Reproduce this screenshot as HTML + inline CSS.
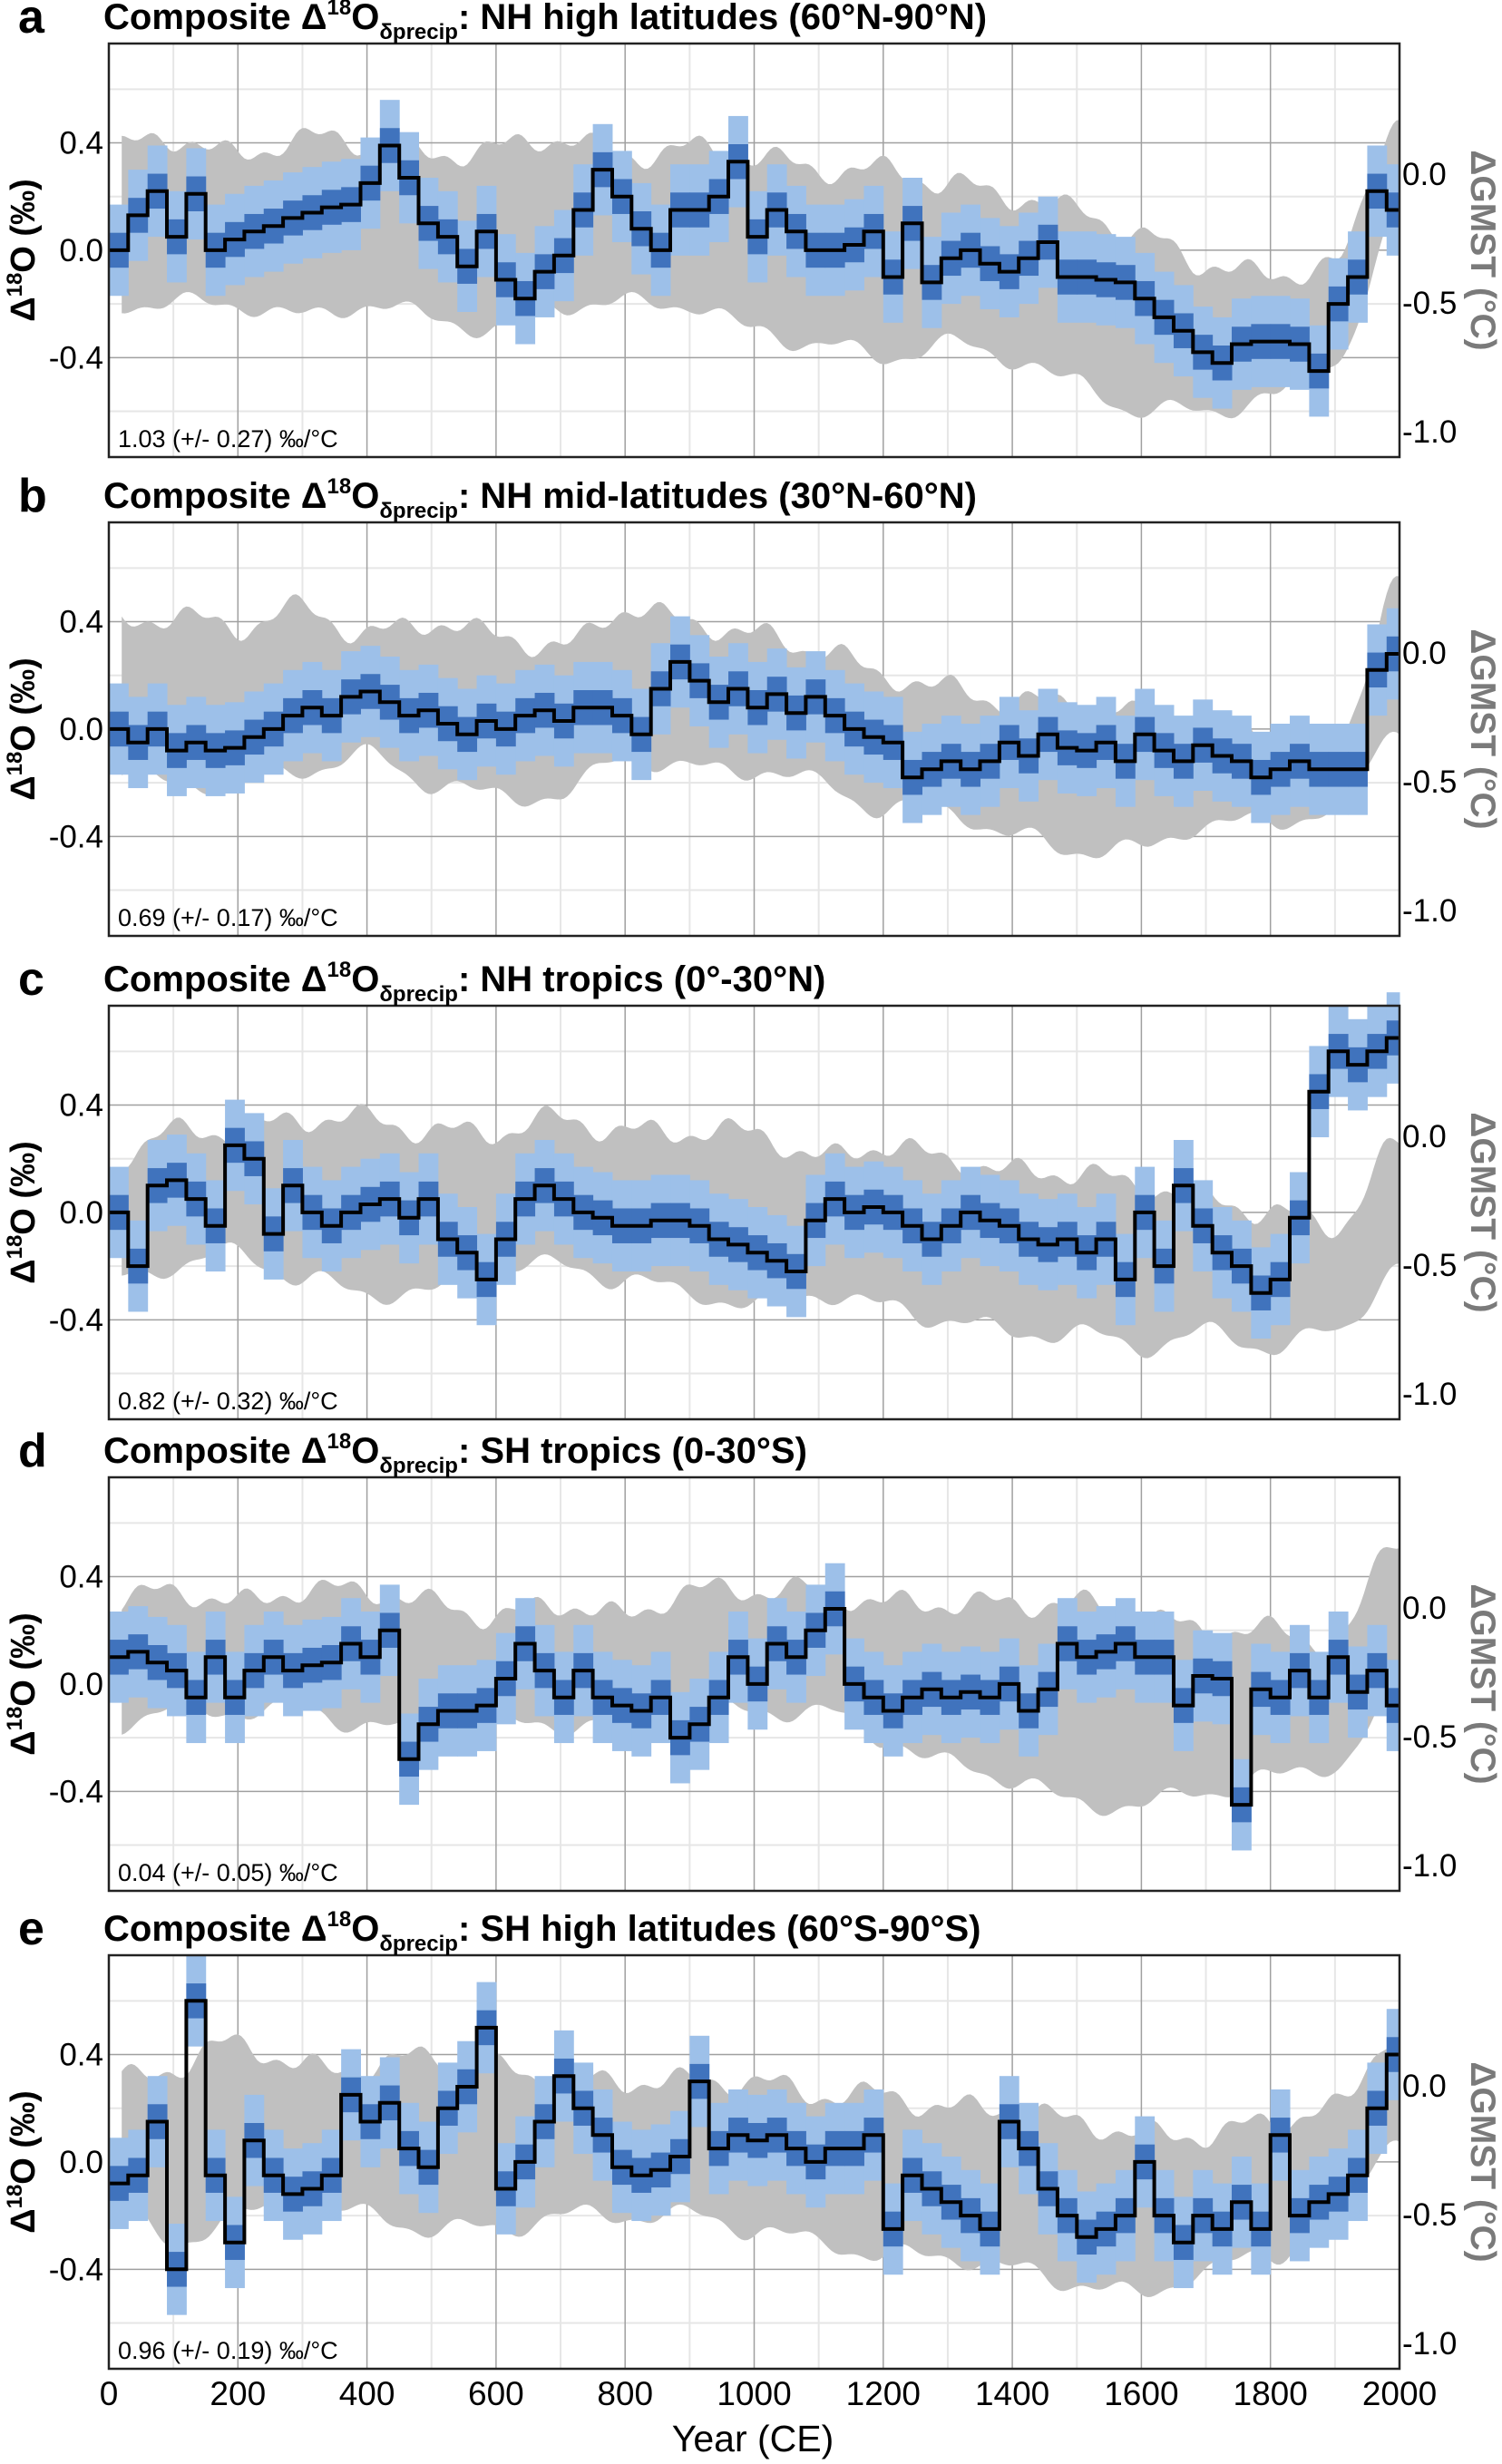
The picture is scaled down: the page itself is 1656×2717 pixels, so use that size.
<!DOCTYPE html>
<html><head><meta charset="utf-8">
<style>
html,body{margin:0;padding:0;background:#fff;}
body{width:1656px;height:2717px;position:relative;overflow:hidden;font-family:"Liberation Sans",sans-serif;}
.t{position:absolute;font-weight:bold;font-size:40px;line-height:44px;white-space:nowrap;color:#000;}
.t sup{font-size:24px;vertical-align:16px;line-height:0;}
.t sub{font-size:24px;vertical-align:-11px;line-height:0;}
.l{position:absolute;font-weight:900;font-size:52px;line-height:50px;}
</style></head><body>
<svg id="s" width="1656" height="2717" style="position:absolute;left:0;top:0"></svg>
<div class="l" style="left:20px;top:-6px">a</div>
<div class="t" style="left:114px;top:-3px">Composite Δ<sup>18</sup>O<sub>δprecip</sub>: NH high latitudes (60°N-90°N)</div>
<div class="l" style="left:20px;top:522px">b</div>
<div class="t" style="left:114px;top:525px">Composite Δ<sup>18</sup>O<sub>δprecip</sub>: NH mid-latitudes (30°N-60°N)</div>
<div class="l" style="left:20px;top:1055px">c</div>
<div class="t" style="left:114px;top:1058px">Composite Δ<sup>18</sup>O<sub>δprecip</sub>: NH tropics (0°-30°N)</div>
<div class="l" style="left:20px;top:1575px">d</div>
<div class="t" style="left:114px;top:1578px">Composite Δ<sup>18</sup>O<sub>δprecip</sub>: SH tropics (0-30°S)</div>
<div class="l" style="left:20px;top:2102px">e</div>
<div class="t" style="left:114px;top:2105px">Composite Δ<sup>18</sup>O<sub>δprecip</sub>: SH high latitudes (60°S-90°S)</div>
<script>
const NS="http://www.w3.org/2000/svg",S=document.getElementById('s');
function el(t,a,txt){const e=document.createElementNS(NS,t);for(const k in a)e.setAttribute(k,a[k]);if(txt!==undefined)e.textContent=txt;S.appendChild(e);return e;}
const L=120,R=1543,H=456;
const X=y=>L+(R-L)*y/2000;
const panels=[
{top:48,txt:"1.03 (+/- 0.27) ‰/°C",
v:[0.0,0.13,0.22,0.05,0.21,0.0,0.04,0.07,0.09,0.12,0.14,0.16,0.17,0.25,0.39,0.27,0.10,0.05,-0.06,0.07,-0.11,-0.18,-0.08,-0.02,0.15,0.3,0.2,0.08,0.0,0.15,0.15,0.2,0.33,0.05,0.15,0.07,0.0,0.0,0.02,0.07,-0.1,0.1,-0.12,-0.03,0.0,-0.05,-0.08,-0.03,0.03,-0.1,-0.1,-0.11,-0.12,-0.18,-0.25,-0.3,-0.38,-0.42,-0.35,-0.34,-0.34,-0.35,-0.45,-0.2,-0.1,0.22,0.15],
up:[0.38,0.42,0.35,0.42,0.4,0.35,0.38,0.42,0.35,0.38,0.35,0.3,0.3,0.25,0.2,0.15,0.05,-0.05,-0.1,-0.05,0.5],
lo:[-0.2,-0.2,-0.2,-0.25,-0.2,-0.25,-0.3,-0.2,-0.2,-0.2,-0.3,-0.35,-0.4,-0.35,-0.4,-0.5,-0.6,-0.6,-0.55,-0.4,0.1]},
{top:576,txt:"0.69 (+/- 0.17) ‰/°C",
v:[0.0,-0.05,0.0,-0.08,-0.05,-0.08,-0.07,-0.03,0.0,0.05,0.08,0.05,0.12,0.14,0.1,0.05,0.07,0.02,-0.02,0.03,0.0,0.05,0.07,0.03,0.08,0.08,0.05,-0.02,0.15,0.25,0.18,0.1,0.15,0.08,0.13,0.06,0.12,0.05,0.0,-0.03,-0.05,-0.18,-0.15,-0.12,-0.15,-0.12,-0.05,-0.1,-0.02,-0.07,-0.08,-0.05,-0.12,-0.02,-0.08,-0.12,-0.06,-0.1,-0.12,-0.18,-0.15,-0.12,-0.15,-0.15,-0.15,0.22,0.28],
up:[0.4,0.42,0.38,0.45,0.35,0.4,0.35,0.3,0.45,0.4,0.35,0.3,0.2,0.15,0.1,0.1,0.05,0.0,0.0,-0.05,0.55],
lo:[-0.15,-0.2,-0.2,-0.15,-0.1,-0.2,-0.25,-0.25,-0.1,-0.15,-0.15,-0.2,-0.3,-0.3,-0.4,-0.45,-0.45,-0.35,-0.35,-0.3,0.0]},
{top:1109,txt:"0.82 (+/- 0.32) ‰/°C",
v:[0.0,-0.2,0.1,0.12,0.05,-0.05,0.25,0.2,-0.08,0.1,0.0,-0.05,0.0,0.03,0.05,-0.02,0.05,-0.1,-0.15,-0.25,-0.1,0.05,0.1,0.05,0.0,-0.02,-0.05,-0.05,-0.03,-0.03,-0.05,-0.1,-0.12,-0.15,-0.18,-0.22,-0.03,0.05,0.0,0.02,0.0,-0.05,-0.1,-0.05,0.0,-0.03,-0.05,-0.1,-0.12,-0.1,-0.15,-0.1,-0.25,0.0,-0.2,0.1,-0.05,-0.15,-0.2,-0.3,-0.25,-0.02,0.45,0.6,0.55,0.6,0.65],
up:[0.2,0.3,0.3,0.35,0.35,0.3,0.3,0.35,0.3,0.3,0.3,0.2,0.25,0.2,0.15,0.15,0.1,0.05,0.0,-0.05,0.25],
lo:[-0.25,-0.2,-0.15,-0.25,-0.3,-0.3,-0.2,-0.2,-0.25,-0.3,-0.35,-0.3,-0.35,-0.4,-0.45,-0.45,-0.5,-0.45,-0.5,-0.45,-0.2]},
{top:1629,txt:"0.04 (+/- 0.05) ‰/°C",
v:[0.1,0.12,0.08,0.05,-0.05,0.1,-0.05,0.05,0.1,0.05,0.07,0.08,0.15,0.1,0.2,-0.28,-0.15,-0.1,-0.1,-0.08,0.02,0.15,0.05,-0.05,0.05,-0.05,-0.08,-0.1,-0.05,-0.2,-0.15,-0.05,0.1,0.0,0.15,0.1,0.2,0.28,0.0,-0.05,-0.1,-0.05,-0.02,-0.05,-0.03,-0.05,0.0,-0.1,-0.02,0.15,0.1,0.12,0.15,0.1,0.1,-0.08,0.03,0.02,-0.45,-0.02,-0.05,0.05,-0.05,0.1,-0.03,0.05,-0.08],
up:[0.3,0.35,0.3,0.35,0.35,0.3,0.25,0.3,0.25,0.35,0.35,0.35,0.3,0.3,0.3,0.3,0.25,0.2,0.2,0.15,0.55],
lo:[-0.15,-0.1,-0.1,-0.1,-0.15,-0.2,-0.15,-0.15,-0.15,-0.1,-0.1,-0.1,-0.2,-0.3,-0.35,-0.45,-0.45,-0.4,-0.35,-0.3,-0.05]},
{top:2156,txt:"0.96 (+/- 0.19) ‰/°C",
v:[-0.08,-0.05,0.15,-0.4,0.6,-0.05,-0.3,0.08,-0.05,-0.12,-0.1,-0.05,0.25,0.15,0.22,0.05,-0.02,0.2,0.28,0.5,-0.1,0.0,0.15,0.32,0.2,0.1,-0.02,-0.05,-0.03,0.02,0.3,0.05,0.1,0.08,0.1,0.05,0.0,0.05,0.05,0.1,-0.25,-0.05,-0.1,-0.15,-0.2,-0.25,0.15,0.05,-0.1,-0.2,-0.28,-0.25,-0.2,0.0,-0.2,-0.3,-0.2,-0.25,-0.15,-0.25,0.1,-0.2,-0.15,-0.12,-0.05,0.2,0.4],
up:[0.3,0.35,0.45,0.35,0.35,0.4,0.35,0.3,0.3,0.3,0.3,0.25,0.25,0.2,0.2,0.15,0.1,0.1,0.15,0.2,0.5],
lo:[-0.15,-0.3,-0.2,-0.15,-0.2,-0.25,-0.25,-0.2,-0.2,-0.2,-0.25,-0.3,-0.35,-0.35,-0.4,-0.45,-0.5,-0.4,-0.35,-0.2,0.1]}
];
function interp(arr,yr){const t=yr/100,i=Math.min(Math.floor(t),arr.length-2),f=t-i,g=(1-Math.cos(Math.PI*f))/2;return arr[i]*(1-g)+arr[i+1]*g;}
panels.forEach((p,pi)=>{
 const T=p.top,B=T+H,Y=v=>T+(0.77-v)*296;
 el('rect',{x:L,y:T,width:R-L,height:H,fill:'#fff'});
 for(let yr=100;yr<2000;yr+=200)el('line',{x1:X(yr),x2:X(yr),y1:T,y2:B,stroke:'#e6e6e6','stroke-width':2});
 [0.6,0.2,-0.2,-0.6].forEach(v=>el('line',{x1:L,x2:R,y1:Y(v),y2:Y(v),stroke:'#e6e6e6','stroke-width':2}));
 for(let yr=200;yr<2000;yr+=200)el('line',{x1:X(yr),x2:X(yr),y1:T,y2:B,stroke:'#a0a0a0','stroke-width':1.5});
 [0.4,0,-0.4].forEach(v=>el('line',{x1:L,x2:R,y1:Y(v),y2:Y(v),stroke:'#a0a0a0','stroke-width':1.5}));
 let up=[],lo=[];
 for(let yr=20;yr<=2000;yr+=5){const w=0.035*Math.sin(yr/23+pi*1.7)+0.02*Math.sin(yr/9+pi);
  let u=interp(p.up,yr)+w,l=interp(p.lo,yr)-0.03*Math.sin(yr/27+pi*2.3)-0.015*Math.sin(yr/11);
  up.push(X(yr).toFixed(1)+','+Y(u).toFixed(1));lo.push(X(yr).toFixed(1)+','+Y(l).toFixed(1));}
 el('polygon',{points:up.concat(lo.reverse()).join(' '),fill:'#c0c0c0'});
 const n=67,v=p.v;
 const val=i=>v[Math.min(i,v.length-1)];
 for(let i=0;i<n;i++){const x0=X(i*30),x1=X(Math.min(i*30+30,2000));const c=val(i);
  el('rect',{x:x0,y:Y(c+0.17),width:x1-x0+0.5,height:Y(c-0.17)-Y(c+0.17),fill:'#9dc0e9'});}
 for(let i=0;i<n;i++){const x0=X(i*30),x1=X(Math.min(i*30+30,2000));const c=val(i);
  el('rect',{x:x0,y:Y(c+0.065),width:x1-x0+0.5,height:Y(c-0.065)-Y(c+0.065),fill:'#4073bd'});}
 let d='';
 for(let i=0;i<n;i++){const x0=X(i*30),x1=X(Math.min(i*30+30,2000));const y=Y(val(i)).toFixed(1);
  d+=(i?'L':'M')+x0.toFixed(1)+','+y+'L'+x1.toFixed(1)+','+y;}
 el('path',{d:d,fill:'none',stroke:'#000','stroke-width':4});
 el('rect',{x:L,y:T,width:R-L,height:H,fill:'none',stroke:'#222','stroke-width':2.5});
 [[0.4,'0.4'],[0,'0.0'],[-0.4,'-0.4']].forEach(([vv,s])=>el('text',{x:114,y:Y(vv)+12,'text-anchor':'end','font-size':35,'font-family':'Liberation Sans'},s));
 [[144,'0.0'],[286,'-0.5'],[428,'-1.0']].forEach(([o,s])=>el('text',{x:1546,y:T+o+12,'font-size':35,'font-family':'Liberation Sans'},s));
 const cy=T+228;
 const g=el('text',{x:0,y:0,transform:`translate(38,${cy}) rotate(-90)`,'text-anchor':'middle','font-size':38,'font-weight':'bold','font-family':'Liberation Sans'});
 g.innerHTML='Δ<tspan font-size="24" dy="-14">18</tspan><tspan dy="14">O (‰)</tspan>';
 el('text',{x:0,y:0,transform:`translate(1622,${cy}) rotate(90)`,'text-anchor':'middle','font-size':39,'font-weight':'bold',fill:'#7a7a7a','font-family':'Liberation Sans'},'ΔGMST (°C)');
 el('text',{x:130,y:B-11,'font-size':27,'font-family':'Liberation Sans'},p.txt);
});
for(let yr=0;yr<=2000;yr+=200)el('text',{x:X(yr),y:2652,'text-anchor':'middle','font-size':37,'font-family':'Liberation Sans'},String(yr));
el('text',{x:830,y:2703,'text-anchor':'middle','font-size':41,'font-family':'Liberation Sans'},'Year (CE)');
</script>
</body></html>
